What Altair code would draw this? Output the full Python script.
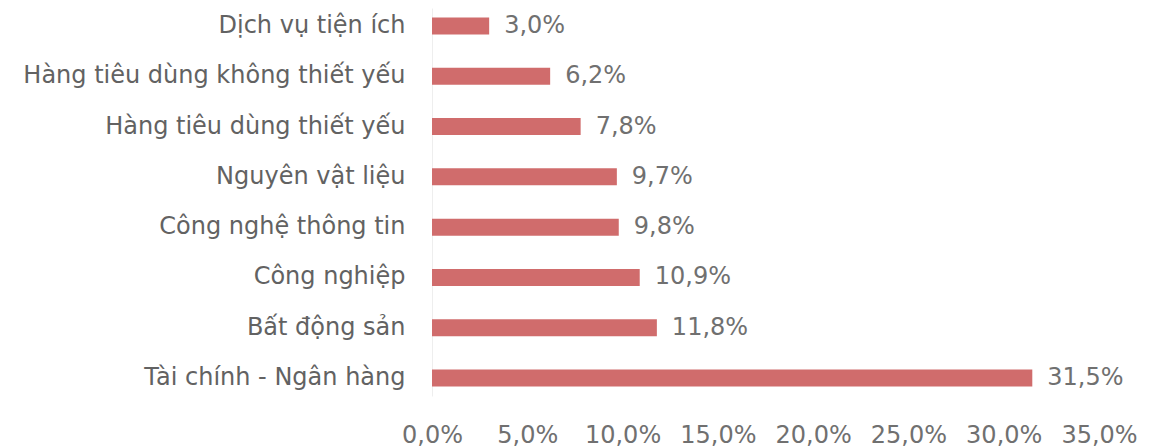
import altair as alt
import pandas as pd

categories = ["Dịch vụ tiện ích", "Hàng tiêu dùng không thiết yếu", "Hàng tiêu dùng thiết yếu",
              "Nguyên vật liệu", "Công nghệ thông tin", "Công nghiệp", "Bất động sản",
              "Tài chính - Ngân hàng"]
values = [3.0, 6.2, 7.8, 9.7, 9.8, 10.9, 11.8, 31.5]
x_ticks = [0, 5, 10, 15, 20, 25, 30, 35]

df = pd.DataFrame({"cat": categories, "val": values})
df["lbl"] = [f"{v:.1f}".replace(".", ",") + "%" for v in values]

FONT = "DejaVu Sans"
FS = 24

y = alt.Y("cat:N", sort=categories, title=None,
          scale=alt.Scale(paddingInner=0.662, paddingOuter=0.19),
          axis=alt.Axis(labelFontSize=FS, labelColor="#626262", labelFont=FONT,
                        labelPadding=27, ticks=False, domainColor="#eeeeee",
                        labelLimit=600))
x = alt.X("val:Q", title=None,
          scale=alt.Scale(domain=[0, 35], nice=False),
          axis=alt.Axis(values=x_ticks, grid=False, domain=False, ticks=False,
                        labelFontSize=FS, labelColor="#707070", labelFont=FONT,
                        labelPadding=27, labelFlush=False,
                        labelExpr="replace(format(datum.value, '.1f'), '.', ',') + '%'"))

bars = alt.Chart(df).mark_bar(color="#d06c6c").encode(x=x, y=y)
text = alt.Chart(df).mark_text(align="left", baseline="middle", dx=15, fontSize=FS,
                               font=FONT, color="#707070").encode(
    x="val:Q", y=alt.Y("cat:N", sort=categories), text="lbl:N")

chart = (bars + text).properties(
    width=667, height=388,
    background="white",
    autosize=alt.AutoSizeParams(type="none"),
    padding={"left": 424, "top": 0, "right": 47, "bottom": 52},
).configure_view(strokeWidth=0, stroke=None)

chart.save("out.html", embed_options={"renderer": "svg", "actions": False})
